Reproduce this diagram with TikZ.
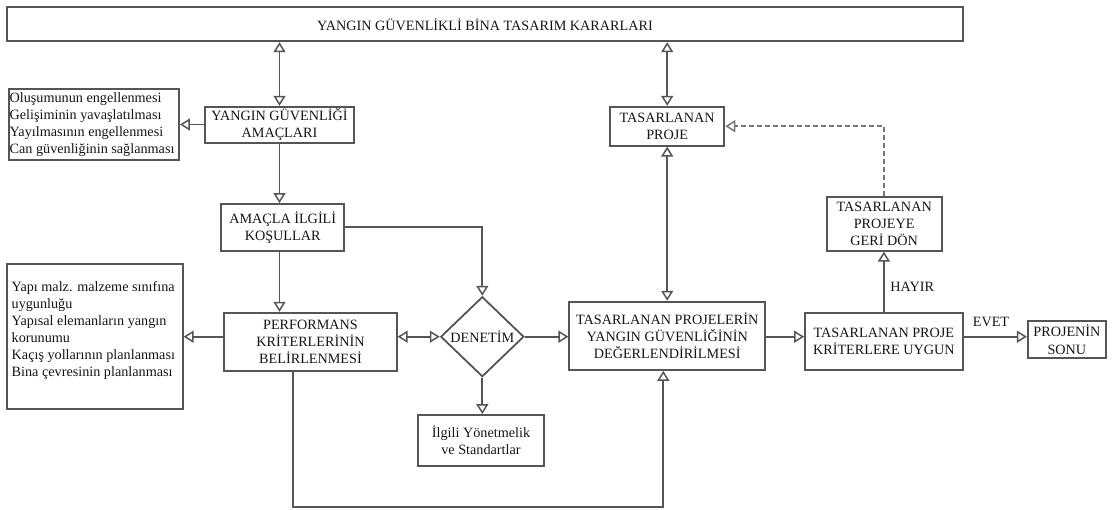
\documentclass[tikz,border=0pt]{standalone}
\usepackage{fontspec}
\setmainfont{Liberation Serif}
\usetikzlibrary{arrows.meta,shapes.geometric}
\definecolor{lc}{HTML}{555555}
\definecolor{tc}{HTML}{151515}
\tikzset{
  box/.style={draw=lc, line width=1.8pt, rectangle, inner sep=0pt, align=center, text=tc,
    font=\fontsize{14.2}{17.3}\selectfont},
  txt/.style={inner sep=1pt, text=tc, font=\fontsize{14.2}{17.3}\selectfont},
  listtext/.style={inner sep=1pt, text=tc, align=left, font=\fontsize{14.2}{17.1}\selectfont},
  tri/.tip={Triangle[open, length=10pt, width=12pt, line width=1.5pt]},
  arr/.style={draw=lc, line width=1.8pt, -tri},
  darr/.style={draw=lc, line width=1.8pt, tri-tri},
  dsh/.style={draw=lc!80, line width=1.8pt, dash pattern=on 5pt off 3pt, -tri}
}
\begin{document}
\begin{tikzpicture}[x=1pt,y=-1pt]
\useasboundingbox (0,0) rectangle (1113,509);
% boxes
\node[box, minimum width=955.4pt, minimum height=34pt] (top) at (485,24.3) {YANGIN GÜVENLİKLİ BİNA TASARIM KARARLARI};
\node[box, minimum width=149pt, minimum height=36pt] (yga) at (279.5,124.7) {YANGIN GÜVENLİĞİ\\AMAÇLARI};
\node[box, minimum width=169.7pt, minimum height=71pt] (l1) at (94.2,124.5) {};
\node[listtext, anchor=west] (l1t) at (l1.west) {Oluşumunun engellenmesi\\Gelişiminin yavaşlatılması\\Yayılmasının engellenmesi\\Can güvenliğinin sağlanması};
\node[box, minimum width=123.3pt, minimum height=46.7pt] (ama) at (282.7,227.3) {AMAÇLA İLGİLİ\\KOŞULLAR};
\node[box, minimum width=172.4pt, minimum height=58pt] (perf) at (310.5,341.7) {PERFORMANS\\KRİTERLERİNİN\\BELİRLENMESİ};
\node[box, minimum width=175.4pt, minimum height=145.3pt] (l2) at (95,336.7) {};
\node[listtext, anchor=west] (l2t) at (10.5,330.6) {Yapı malz. malzeme sınıfına\\uygunluğu\\Yapısal elemanların yangın\\korunumu\\Kaçış yollarının planlanması\\Bina çevresinin planlanması};
\node[draw=lc, line width=1.8pt, shape=diamond, inner sep=0pt, minimum width=83.2pt, minimum height=80pt] (dia) at (482.3,336.7) {};
\node[txt] (diat) at (dia.center) {DENETİM};
\node[box, minimum width=126.6pt, minimum height=50.7pt] (ilg) at (481,440.3) {İlgili Yönetmelik\\ve Standartlar};
\node[box, minimum width=114.3pt, minimum height=39pt] (tp) at (667.2,126.2) {TASARLANAN\\PROJE};
\node[box, minimum width=195.7pt, minimum height=68.3pt] (eval) at (667.2,335.8) {TASARLANAN PROJELERİN\\YANGIN GÜVENLİĞİNİN\\DEĞERLENDİRİLMESİ};
\node[box, minimum width=157.7pt, minimum height=57.3pt] (tpk) at (883.9,341.3) {TASARLANAN PROJE\\KRİTERLERE UYGUN};
\node[box, minimum width=115pt, minimum height=53.4pt] (geri) at (884.2,224) {TASARLANAN\\PROJEYE\\GERİ DÖN};
\node[box, minimum width=78.3pt, minimum height=37.3pt] (prj) at (1066.9,339.7) {PROJENİN\\SONU};
\node[txt] (hayir) at (912.3,287.3) {HAYIR};
\node[txt] (evet) at (991,321.7) {EVET};
\coordinate (bl) at (292.7,507);
\coordinate (br) at (663.3,507);
% connectors
\draw[darr] (yga.north |- top.south) -- (yga.north);
\draw[darr] (tp.north |- top.south) -- (tp.north);
\draw[arr] (yga.west |- l1.east) -- (l1.east);
\draw[arr] (yga.south) -- (yga.south |- ama.north);
\draw[arr] (yga.south |- ama.south) -- (yga.south |- perf.north);
\draw[arr] (ama.east) -| (dia.north);
\draw[arr] (perf.west |- dia) -- (l2.east |- dia);
\draw[darr] (perf.east |- dia) -- (dia.west);
\draw[arr] (dia.east) -- (eval.west |- dia);
\draw[arr] (dia.south) -- (dia.south |- ilg.north);
\draw[arr] (perf.south -| bl) -- (bl) -- (br) -- (br |- eval.south);
\draw[darr] (eval.north) -- (eval.north |- tp.south);
\draw[arr] (eval.east |- dia) -- (tpk.west |- dia);
\draw[arr] (tpk.north) -- (tpk.north |- geri.south);
\draw[dsh] (geri.north) |- (tp.east);
\draw[arr] (tpk.east |- dia) -- (prj.west |- dia);
\end{tikzpicture}
\end{document}
